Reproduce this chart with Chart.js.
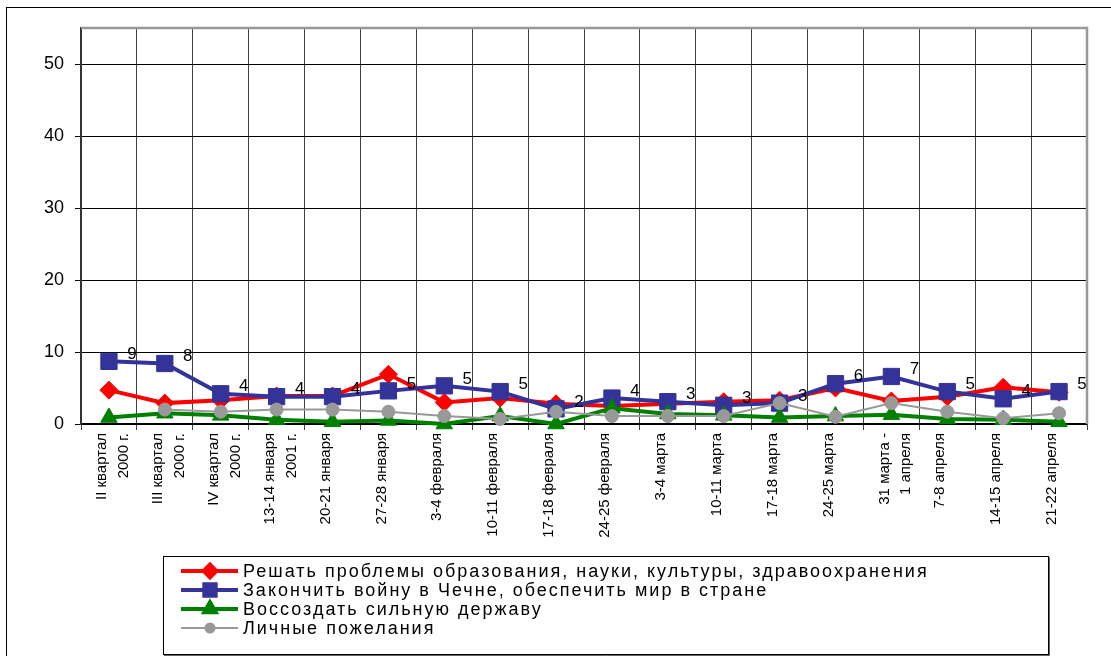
<!DOCTYPE html>
<html>
<head>
<meta charset="utf-8">
<script src="https://cdn.jsdelivr.net/npm/chart.js@4.4.1/dist/chart.umd.min.js"></script>
<style>
  html, body { margin: 0; padding: 0; background: #fff; }
  canvas { display: block; }
</style>
</head>
<body>
<canvas id="myLineChart" width="1111" height="656"></canvas>
<script>
// Категории (опросы)
const categories = [
  ['II квартал', '2000 г.'], ['III квартал', '2000 г.'], ['IV квартал', '2000 г.'],
  ['13-14 января', '2001 г.'], '20-21 января', '27-28 января', '3-4 февраля',
  '10-11 февраля', '17-18 февраля', '24-25 февраля', '3-4 марта', '10-11 марта',
  '17-18 марта', '24-25 марта', ['31 марта -', '1 апреля'], '7-8 апреля',
  '14-15 апреля', '21-22 апреля'
];

// Ряды
const seriesNames = [
  'Решать проблемы образования, науки, культуры, здравоохранения',
  'Закончить войну в Чечне, обеспечить мир в стране',
  'Воссоздать сильную державу',
  'Личные пожелания'
];
const education = [4.7, 2.9, 3.3, 3.9, 3.9, 6.9, 3.0, 3.6, 2.8, 2.5, 2.8, 3.1, 3.3, 5.0, 3.2, 3.8, 5.1, 4.4];
const chechnya  = [8.7, 8.4, 4.2, 3.8, 3.8, 4.6, 5.3, 4.5, 2.1, 3.6, 3.1, 2.6, 2.9, 5.6, 6.6, 4.5, 3.5, 4.5];
const power     = [0.9, 1.5, 1.2, 0.6, 0.3, 0.5, 0.0, 1.1, 0.0, 2.2, 1.4, 1.2, 0.9, 1.1, 1.3, 0.7, 0.6, 0.3];
const personal  = [null, 2.0, 1.7, 2.0, 2.0, 1.7, 1.1, 0.7, 1.7, 1.1, 1.1, 1.1, 2.9, 1.0, 2.9, 1.7, 0.8, 1.5];

// Подписи к синему ряду
const chechnyaLabels = ['9', '8', '4', '4', '4', '5', '5', '5', '2', '4', '3', '3', '3', '6', '7', '5', '4', '5'];

// Шкала Y
const yMin = 0, yMax = 55, yStep = 10;

const FONT = "'Liberation Sans', Arial, sans-serif";

// рамка, подписи и легенда
const decor = {
  id: 'decor',
  beforeDraw(chart) {
    const c = chart.ctx;
    c.save();
    c.fillStyle = '#fff';
    c.fillRect(0, 0, chart.width, chart.height);
    c.strokeStyle = '#000';
    c.lineWidth = 1;
    c.strokeRect(6.5, 7.5, 1200, 700);
    c.restore();
  },
  afterDatasetsDraw(chart) {
    const c = chart.ctx;
    const meta = chart.getDatasetMeta(1);
    c.save();
    c.fillStyle = '#000';
    c.font = '17px ' + FONT;
    c.textAlign = 'center';
    c.textBaseline = 'middle';
    meta.data.forEach((p, i) => {
      c.fillText(chechnyaLabels[i], p.x + 23, p.y - 7);
    });
    c.restore();
  },
  afterDraw(chart) {
    const c = chart.ctx;
    const a = chart.chartArea;
    c.save();
    // верх и правый край области построения
    c.strokeStyle = '#999';
    c.lineWidth = 2.5;
    c.beginPath();
    c.moveTo(a.left, a.top);
    c.lineTo(a.right, a.top);
    c.lineTo(a.right, a.bottom);
    c.stroke();

    // легенда
    c.strokeStyle = '#000';
    c.lineWidth = 1;
    c.strokeRect(163.5, 556.5, 885, 98);
    c.strokeStyle = '#666';
    c.beginPath();
    c.moveTo(1049.5, 557);
    c.lineTo(1049.5, 655.5);
    c.lineTo(164, 655.5);
    c.stroke();

    c.font = '18px ' + FONT;
    c.letterSpacing = '2px';
    c.textBaseline = 'middle';
    c.textAlign = 'left';
    chart.data.datasets.forEach((ds, i) => {
      const y = 571 + i * 19;
      c.strokeStyle = ds.borderColor;
      c.lineWidth = ds.borderWidth;
      c.beginPath();
      c.moveTo(181, y);
      c.lineTo(238, y);
      c.stroke();
      c.fillStyle = ds.pointBackgroundColor;
      c.strokeStyle = ds.pointBackgroundColor;
      Chart.helpers.drawPoint(c, {
        pointStyle: ds.pointStyle,
        radius: ds.pointRadius * 0.7,
        rotation: 0,
        borderWidth: 1
      }, 210, y);
      c.fillStyle = '#000';
      c.fillText(ds.label, 243, y + 1);
    });
    c.restore();
  }
};

const ctx = document.getElementById('myLineChart');
new Chart(ctx, {
  type: 'line',
  data: {
    labels: categories,
    datasets: [{
      label: seriesNames[0],
      data: education,
      borderColor: '#ff0000',
      borderWidth: 4,
      pointStyle: 'rectRot',
      pointRadius: 9,
      pointBackgroundColor: '#ff0000',
      pointBorderColor: '#ff0000',
      pointBorderWidth: 1,
      order: 4,
      clip: false
    }, {
      label: seriesNames[1],
      data: chechnya,
      borderColor: '#333399',
      borderWidth: 4,
      pointStyle: 'rect',
      pointRadius: 11.5,
      pointBackgroundColor: '#333399',
      pointBorderColor: '#333399',
      pointBorderWidth: 1,
      order: 3,
      clip: false
    }, {
      label: seriesNames[2],
      data: power,
      borderColor: '#008000',
      borderWidth: 4,
      pointStyle: 'triangle',
      pointRadius: 9.5,
      pointBackgroundColor: '#008000',
      pointBorderColor: '#008000',
      pointBorderWidth: 1,
      order: 2,
      clip: false
    }, {
      label: seriesNames[3],
      data: personal,
      borderColor: '#999999',
      borderWidth: 2,
      pointStyle: 'circle',
      pointRadius: 6.5,
      pointBackgroundColor: '#999999',
      pointBorderColor: '#999999',
      pointBorderWidth: 1,
      order: 1,
      clip: false
    }]
  },
  options: {
    responsive: false,
    animation: false,
    layout: { padding: { top: 28, right: 24, left: 0, bottom: 0 } },
    plugins: {
      legend: { display: false },
      tooltip: { enabled: false }
    },
    scales: {
      x: {
        offset: true,
        afterFit(scale) { scale.height = 232; },
        grid: {
          offset: true,
          color: '#404040',
          lineWidth: 1,
          tickLength: 6
        },
        border: { color: '#000', width: 1.5 },
        ticks: {
          autoSkip: false,
          minRotation: 90,
          maxRotation: 90,
          padding: 3,
          labelOffset: -7,
          color: '#000',
          font: { family: FONT, size: 15, lineHeight: 1.45 }
        }
      },
      y: {
        min: yMin,
        max: yMax,
        afterFit(scale) { scale.width = 81; },
        grid: {
          color: '#000',
          lineWidth: 1,
          tickLength: 6
        },
        border: { color: '#333', width: 2 },
        ticks: {
          stepSize: yStep,
          includeBounds: false,
          padding: 11,
          color: '#000',
          font: { family: FONT, size: 18 }
        }
      }
    }
  },
  plugins: [decor]
});
</script>
</body>
</html>
